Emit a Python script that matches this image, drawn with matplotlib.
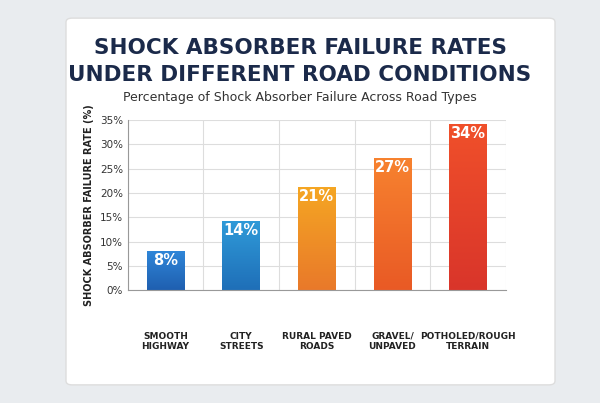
import matplotlib.pyplot as plt
import numpy as np
from matplotlib.patches import FancyBboxPatch
from matplotlib.colors import LinearSegmentedColormap

categories = ["SMOOTH\nHIGHWAY", "CITY\nSTREETS", "RURAL PAVED\nROADS", "GRAVEL/\nUNPAVED", "POTHOLED/ROUGH\nTERRAIN"]
rates = [8, 14, 21, 27, 34]
bar_top = ["#2f86d8", "#2f9ad8", "#f5a623", "#f7822f", "#f0502a"]
bar_bottom = ["#1f5fb0", "#1f6fb8", "#e9792a", "#e95a25", "#d9352a"]

fig = plt.figure(figsize=(6, 4.03), dpi=100)
fig.patch.set_facecolor("#e9ecef")
card = FancyBboxPatch((0.11, 0.045), 0.815, 0.91, boxstyle="round,pad=0,rounding_size=0.01",
                      transform=fig.transFigure, facecolor="white", edgecolor="#dddddd", zorder=-5)
fig.patches.append(card)

fig.text(0.5, 0.88, "SHOCK ABSORBER FAILURE RATES", ha="center", va="center",
         fontsize=15.5, fontweight="bold", color="#1b2a4a")
fig.text(0.5, 0.815, "UNDER DIFFERENT ROAD CONDITIONS", ha="center", va="center",
         fontsize=15.5, fontweight="bold", color="#1b2a4a")
fig.text(0.5, 0.758, "Percentage of Shock Absorber Failure Across Road Types", ha="center",
         va="center", fontsize=9, color="#333333")

ax = fig.add_axes([0.213, 0.28, 0.63, 0.422], zorder=2)
x = np.arange(len(categories))
w = 0.5
for i, v in enumerate(rates):
    grad = np.linspace(0, 1, 100).reshape(-1, 1)
    cm = LinearSegmentedColormap.from_list("g", [bar_bottom[i], bar_top[i]])
    ax.imshow(grad, cmap=cm, aspect="auto", origin="lower",
              extent=(x[i] - w / 2, x[i] + w / 2, 0, v), zorder=2)
    ax.text(x[i], v - 1.8, f"{v}%", ha="center", va="center", color="white",
            fontsize=10.5, fontweight="bold", zorder=3)

ax.set_xlim(-0.5, len(categories) - 0.5)
ax.set_ylim(0, 35)
ax.set_yticks(range(0, 36, 5))
ax.set_yticklabels([f"{t}%" for t in range(0, 36, 5)], fontsize=7.5, color="#333333")
ax.set_xticks(x)
ax.set_xticklabels(categories, fontsize=6.5, fontweight="bold", color="#222222")
ax.tick_params(axis="x", length=0, pad=30)
ax.tick_params(axis="y", length=0)
ax.set_xticks(np.arange(-0.5, len(categories), 1), minor=True)
ax.tick_params(axis="x", which="minor", length=0)
ax.grid(True, which="minor", axis="x", color="#dddddd", linewidth=0.8)
ax.grid(True, which="major", axis="y", color="#dddddd", linewidth=0.8)
ax.set_axisbelow(True)
for s in ["top", "right"]:
    ax.spines[s].set_visible(False)
ax.spines["left"].set_color("#999999")
ax.spines["bottom"].set_color("#999999")
ax.set_ylabel("SHOCK ABSORBER FAILURE RATE (%)", fontsize=7, fontweight="bold", color="#222222")

plt.savefig("out.png", dpi=100)
